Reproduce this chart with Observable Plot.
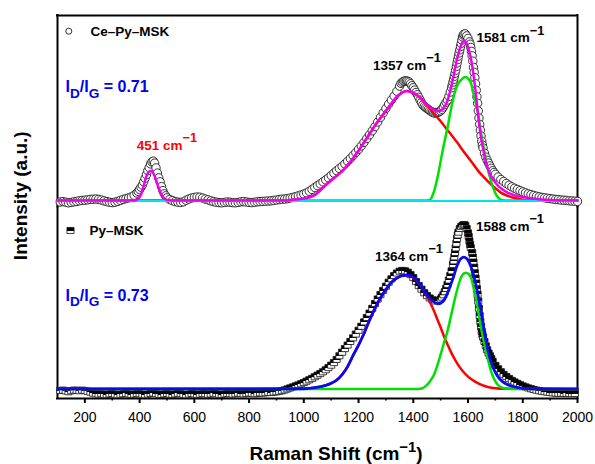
<!DOCTYPE html>
<html>
<head>
<meta charset="utf-8">
<script src="https://cdn.jsdelivr.net/npm/d3@7"></script>
<script src="https://cdn.jsdelivr.net/npm/@observablehq/plot@0.6"></script>
<style>
  html, body { margin: 0; padding: 0; background: #fff; }
  #chart { width: 595px; height: 464px; }
</style>
</head>
<body>
<div id="chart"></div>
<script>
// Panels (samples), top to bottom
const panels = ["Ce–Py–MSK", "Py–MSK"];

// Axis ticks (Raman shift, cm-1)
const majorTicks = [200, 400, 600, 800, 1000, 1200, 1400, 1600, 1800, 2000];
const minorTicks = [300, 500, 700, 900, 1100, 1300, 1500, 1700, 1900];

// Peak positions and intensity ratios
const cePeaks = [451, 1357, 1581];
const pyPeaks = [1364, 1588];
const idigRatios = ["0.71", "0.73"];

// Ce–Py–MSK measured spectrum [shift, intensity]
const ceSpectrum = [
  [110,-0.5],[120,-0.3],[130,-0.6],[140,-0.9],[150,-0.7],[160,-0.4],[170,-0.2],[180,0.1],[190,0.3],[200,0.4],
  [210,0.6],[220,0.8],[230,0.9],[240,1.0],[250,0.8],[260,0.5],[270,0.1],[280,-0.3],[290,-0.6],[300,-0.8],
  [310,-0.6],[320,-0.2],[330,0.3],[340,0.8],[350,1.2],[360,1.6],[370,2.1],[380,2.9],[390,4.0],[395,4.8],
  [400,5.8],[405,6.9],[410,8.0],[415,9.6],[420,11.4],[425,13.2],[430,15.2],[435,16.8],[440,18.6],[445,19.6],
  [450,20.0],[455,19.0],[460,16.6],[465,14.0],[470,11.6],[475,9.6],[480,7.2],[485,5.2],[490,3.6],[495,2.6],
  [500,1.6],[510,0.8],[520,0.2],[530,-0.3],[540,-0.6],[550,-0.7],[560,-0.4],[570,0.4],[580,1.0],[590,1.5],
  [600,1.8],[610,2.0],[620,1.9],[630,1.5],[640,1.0],[650,0.6],[660,0.1],[670,-0.3],[680,-0.6],[690,-0.8],
  [700,-0.9],[710,-0.7],[720,-0.5],[730,-0.6],[740,-0.8],[750,-0.9],[760,-0.7],[770,-0.4],[780,-0.3],[790,-0.5],
  [800,-0.7],[810,-0.8],[820,-0.6],[830,-0.4],[840,-0.3],[850,-0.2],[860,-0.1],[870,0.0],[880,0.1],[890,0.3],
  [900,0.5],[910,0.7],[920,0.9],[930,1.0],[940,1.2],[950,1.5],[960,1.8],[970,2.2],[980,2.6],[990,3.0],
  [1000,3.5],[1010,4.1],[1020,4.9],[1030,5.8],[1040,6.8],[1050,7.7],[1060,8.6],[1070,9.6],[1080,10.6],[1090,11.6],
  [1100,12.8],[1110,14.0],[1120,15.2],[1130,16.3],[1140,17.4],[1150,18.6],[1160,19.9],[1170,21.3],[1180,22.8],[1190,24.3],
  [1200,25.9],[1210,27.6],[1220,29.4],[1230,31.3],[1240,33.2],[1250,35.2],[1260,37.3],[1270,39.6],[1280,41.9],[1290,44.2],
  [1300,46.4],[1310,48.6],[1320,50.6],[1330,52.6],[1340,55.0],[1350,57.6],[1355,59.0],[1360,59.6],[1365,60.0],[1370,60.2],
  [1375,60.2],[1380,60.0],[1385,59.6],[1390,58.8],[1395,57.8],[1400,56.8],[1405,55.6],[1410,54.4],[1415,53.3],[1420,52.0],
  [1425,50.6],[1430,49.4],[1435,48.2],[1440,47.4],[1445,46.9],[1450,46.4],[1455,45.9],[1460,45.4],[1465,44.9],[1470,44.5],
  [1475,44.2],[1480,44.1],[1485,44.2],[1490,44.4],[1495,44.8],[1500,45.2],[1505,46.0],[1510,47.1],[1515,48.3],[1520,49.5],
  [1525,50.6],[1530,52.4],[1535,54.6],[1540,56.8],[1542.5,58.2],[1545,59.6],[1547.5,61.0],[1550,62.5],[1552.5,64.0],[1555,65.6],
  [1557.5,67.4],[1560,69.2],[1562.5,70.9],[1565,72.6],[1567.5,74.2],[1570,75.8],[1572.5,77.4],[1575,79.0],[1577.5,80.7],[1580,82.2],
  [1582.5,83.2],[1585,83.6],[1590,83.8],[1595,82.8],[1600,81.5],[1605,79.8],[1607.5,78.6],[1610,77.0],[1612.5,75.0],[1615,72.8],
  [1617.5,70.1],[1620,67.0],[1622.5,64.5],[1625,61.8],[1627.5,58.8],[1630,55.5],[1632.5,52.2],[1635,49.0],[1637.5,45.2],[1640,41.6],
  [1642.5,38.4],[1645,35.5],[1647.5,32.6],[1650,30.0],[1652.5,28.1],[1655,26.6],[1660,24.0],[1665,22.0],[1670,20.4],[1675,19.0],
  [1680,17.6],[1685,16.4],[1690,15.2],[1695,14.3],[1700,13.4],[1710,12.0],[1720,10.8],[1730,9.8],[1740,8.8],[1750,7.9],
  [1760,7.1],[1770,6.4],[1780,5.8],[1790,5.2],[1800,4.6],[1810,4.1],[1820,3.6],[1830,3.2],[1840,2.8],[1850,2.4],
  [1860,2.1],[1870,1.8],[1880,1.6],[1890,1.4],[1900,1.2],[1910,1.0],[1920,0.8],[1930,0.7],[1940,0.5],[1950,0.4],
  [1960,0.3],[1970,0.1],[1980,0.0],[1990,-0.1],[2000,-0.2]
];

// Ce–Py–MSK fits: cumulative, D band, G band, baseline
const ceCumulativeFit = [
  [100,0.3],[380,0.3],[390,0.7],[400,2.0],[405,3.3],[410,5.2],[415,7.6],[420,10.2],[425,12.4],[430,14.0],
  [435,14.8],[440,15.0],[445,14.8],[450,14.0],[455,12.5],[460,10.6],[465,8.5],[470,6.5],[475,4.7],[480,3.2],
  [485,2.1],[490,1.3],[500,0.6],[510,0.35],[520,0.3],[940,0.3],[960,0.6],[980,0.9],[1000,1.2],[1020,1.8],
  [1040,3.0],[1060,5.4],[1080,8.0],[1100,10.4],[1120,12.6],[1140,15.0],[1160,18.0],[1180,21.4],[1200,25.2],[1220,29.4],
  [1240,33.6],[1260,37.8],[1280,41.6],[1300,45.2],[1320,48.8],[1340,52.2],[1360,54.4],[1375,55.1],[1390,54.8],[1405,53.8],
  [1420,52.4],[1435,50.4],[1450,48.2],[1465,46.6],[1480,45.4],[1490,45.0],[1500,45.3],[1510,46.5],[1520,48.6],[1530,52.6],
  [1540,58.0],[1550,64.6],[1560,71.2],[1570,76.4],[1580,79.6],[1587,80.3],[1595,79.0],[1605,74.8],[1615,68.0],[1625,58.0],
  [1635,45.5],[1645,34.0],[1655,26.2],[1665,19.6],[1675,15.2],[1685,12.2],[1695,10.1],[1710,7.6],[1725,5.9],[1745,4.2],
  [1770,2.9],[1800,2.0],[1830,1.4],[1870,0.8],[1920,0.4],[2000,0.3]
];
const ceDBand = [
  [100,0.3],[940,0.3],[960,0.6],[980,0.9],[1000,1.2],[1020,1.8],[1040,3.0],[1060,5.4],[1080,8.0],[1100,10.4],
  [1120,12.6],[1140,15.0],[1160,18.0],[1180,21.4],[1200,25.2],[1220,29.4],[1240,33.6],[1260,37.8],[1280,41.6],[1300,45.2],
  [1320,48.8],[1340,52.2],[1360,54.4],[1375,55.1],[1390,54.8],[1405,53.8],[1420,52.3],[1435,50.2],[1450,47.9],[1465,45.4],
  [1480,43.0],[1500,40.0],[1520,36.4],[1540,33.0],[1560,29.4],[1580,25.6],[1600,22.0],[1620,18.3],[1640,14.6],[1660,11.6],
  [1680,8.8],[1700,6.4],[1720,4.2],[1745,2.6],[1770,1.5],[1800,0.7],[1830,0.35],[2000,0.3]
];
const ceGBand = [
  [100,0.3],[1440,0.3],[1458,0.4],[1466,1.5],[1476,4.9],[1488,11.5],[1500,20.0],[1512,28.5],[1525,36.7],[1537,45.5],
  [1550,53.5],[1562,58.4],[1574,60.6],[1585,62.0],[1592,62.2],[1600,61.4],[1611,59.0],[1622,52.6],[1635,45.0],[1647,34.6],
  [1660,24.8],[1672,16.2],[1684,10.0],[1693,6.2],[1702,3.3],[1712,1.4],[1721,0.5],[1735,0.3],[2000,0.3]
];
const ceBaseline = [[100,0],[2000,0]];

// Py–MSK measured spectrum [shift, intensity]
const pySpectrum = [
  [110,1.0],[120,1.2],[130,0.8],[140,0.4],[150,0.9],[160,1.2],[170,1.1],[180,0.9],[190,1.2],[200,1.0],
  [210,0.6],[220,0.2],[230,-0.3],[240,-0.6],[250,-0.8],[260,-0.6],[270,-0.9],[280,-1.0],[290,-0.7],[300,-0.5],
  [310,-0.8],[320,-1.1],[330,-0.9],[340,-0.6],[350,-0.4],[360,-0.7],[370,-1.0],[380,-0.8],[390,-0.5],[400,-0.6],
  [410,-0.9],[420,-1.1],[430,-0.8],[440,-0.5],[450,-0.3],[460,-0.6],[470,-0.9],[480,-1.0],[490,-0.7],[500,-0.5],
  [510,-0.8],[520,-1.0],[530,-0.7],[540,-0.4],[550,-0.6],[560,-0.9],[570,-1.1],[580,-0.8],[590,-0.5],[600,-0.7],
  [610,-1.0],[620,-0.8],[630,-0.5],[640,-0.6],[650,-0.9],[660,-0.7],[670,-0.4],[680,-0.6],[690,-0.9],[700,-1.0],
  [710,-0.7],[720,-0.5],[730,-0.6],[740,-0.8],[750,-0.6],[760,-0.3],[770,-0.5],[780,-0.7],[790,-0.5],[800,-0.3],
  [810,-0.4],[820,-0.6],[830,-0.4],[840,-0.2],[850,-0.3],[860,-0.1],[870,0.1],[880,0.0],[890,0.2],[900,0.4],
  [910,0.6],[920,0.9],[930,1.3],[940,1.8],[950,2.3],[960,2.8],[970,3.3],[980,3.8],[990,4.4],[1000,5.0],
  [1010,5.7],[1020,6.4],[1030,7.1],[1040,7.9],[1050,8.7],[1060,9.5],[1070,10.4],[1080,11.4],[1090,12.5],[1100,13.7],
  [1110,15.0],[1120,16.6],[1130,18.4],[1140,20.2],[1150,22.0],[1160,23.8],[1170,25.6],[1180,27.4],[1190,29.3],[1200,31.2],
  [1210,33.2],[1220,35.4],[1230,37.6],[1240,39.8],[1250,42.2],[1260,44.6],[1270,46.9],[1280,49.1],[1290,51.2],[1300,53.3],
  [1310,55.3],[1320,57.0],[1330,58.6],[1340,59.9],[1350,60.8],[1360,61.2],[1370,61.0],[1380,60.3],[1390,59.1],[1400,57.6],
  [1410,55.6],[1420,53.6],[1430,51.8],[1440,50.0],[1450,48.6],[1460,47.4],[1470,46.5],[1480,45.9],[1490,46.0],[1500,46.9],
  [1505,47.8],[1510,49.0],[1515,50.5],[1520,52.2],[1525,54.2],[1530,56.4],[1535,58.6],[1540,61.0],[1545,64.2],[1547.5,66.0],
  [1550,68.0],[1552.5,70.2],[1555,72.5],[1557.5,74.8],[1560,77.2],[1562.5,79.0],[1565,80.4],[1570,82.2],[1575,83.2],[1580,83.8],
  [1585,84.2],[1590,83.8],[1595,82.2],[1600,80.0],[1602.5,78.2],[1605,76.0],[1607.5,74.2],[1610,72.6],[1615,70.2],[1617.5,67.8],
  [1620,65.4],[1622.5,62.8],[1625,60.0],[1627.5,57.4],[1630,54.8],[1632.5,52.0],[1635,49.2],[1637.5,45.8],[1640,42.2],[1642.5,38.6],
  [1645,35.6],[1647.5,33.0],[1650,30.6],[1652.5,29.0],[1655,27.8],[1660,25.6],[1665,23.4],[1670,21.4],[1675,19.8],[1680,18.4],
  [1685,17.0],[1690,15.6],[1700,13.6],[1710,11.9],[1720,10.4],[1730,9.1],[1740,8.0],[1750,7.0],[1760,6.1],[1770,5.3],
  [1780,4.6],[1790,3.9],[1800,3.3],[1810,2.8],[1820,2.3],[1830,1.9],[1840,1.5],[1850,1.2],[1860,0.9],[1870,0.6],
  [1880,0.4],[1890,0.2],[1900,0.0],[1910,-0.2],[1920,-0.3],[1930,-0.4],[1940,-0.4],[1950,-0.5],[1960,-0.4],[1970,-0.5],
  [1980,-0.6],[1990,-0.5]
];

// Py–MSK fits: cumulative, D band, G band
const pyCumulativeFit = [
  [100,1.8],[1000,1.9],[1040,2.4],[1080,3.6],[1100,4.6],[1120,6.2],[1140,9.0],[1160,13.0],[1180,18.6],[1200,23.8],
  [1220,29.6],[1240,36.2],[1260,42.2],[1280,47.4],[1300,51.6],[1320,55.2],[1340,57.4],[1360,58.6],[1380,58.9],[1400,57.8],
  [1420,55.0],[1440,50.9],[1460,47.2],[1475,45.4],[1490,44.5],[1500,44.8],[1515,47.0],[1530,51.6],[1545,57.2],[1560,63.6],
  [1572,66.8],[1584,67.9],[1595,67.2],[1605,65.0],[1615,61.4],[1625,56.4],[1635,50.0],[1645,42.6],[1655,34.2],[1665,26.4],
  [1675,19.8],[1685,15.0],[1695,11.4],[1708,8.2],[1725,5.6],[1745,3.9],[1770,2.8],[1800,2.1],[1830,1.9],[2000,1.8]
];
const pyDBand = [
  [100,1.8],[1000,1.9],[1040,2.4],[1080,3.6],[1100,4.6],[1120,6.2],[1140,9.0],[1160,13.0],[1180,18.6],[1200,23.8],
  [1220,29.6],[1240,36.2],[1260,42.2],[1280,47.4],[1300,51.6],[1320,55.2],[1340,57.4],[1360,58.5],[1380,58.7],[1400,57.5],
  [1420,54.8],[1430,53.0],[1440,50.6],[1452,47.5],[1464,44.4],[1476,40.8],[1488,36.6],[1500,32.6],[1512,28.2],[1525,24.1],
  [1540,19.6],[1555,15.9],[1570,12.6],[1586,9.9],[1605,7.4],[1623,5.7],[1645,4.1],[1672,2.8],[1700,2.1],[1730,1.85],
  [2000,1.8]
];
const pyGBand = [
  [100,1.8],[1420,1.8],[1430,2.0],[1445,3.2],[1460,5.4],[1476,9.0],[1488,13.6],[1500,19.1],[1512,24.8],[1525,30.8],
  [1537,38.0],[1550,45.8],[1560,51.4],[1570,56.0],[1580,59.0],[1592,60.0],[1602,59.4],[1611,57.5],[1620,52.8],[1629,47.5],
  [1638,40.0],[1648,32.0],[1657,26.0],[1666,20.7],[1675,15.4],[1684,10.7],[1696,6.6],[1708,4.0],[1725,2.4],[1745,1.9],
  [1760,1.8],[2000,1.8]
];

// ---- drawing ----
const shift = d => d[0];
const intensity = d => d[1];
const inPanel = p => () => p;

const fitLine = (data, panel, stroke, strokeWidth = 2.5) =>
  Plot.line(data, {x: shift, y: intensity, fy: inPanel(panel), stroke, strokeWidth,
                   curve: "monotone-x", strokeLinejoin: "round", strokeLinecap: "round"});

const peakLabel = (panel, peak, fill, dx, dy) =>
  Plot.text([peak], {x: d => d, fy: inPanel(panel), frameAnchor: "top",
                     text: d => `${d} cm^{−1}`, fill, fontSize: 13.5, fontWeight: "bold",
                     textAnchor: "middle", lineAnchor: "middle", dx, dy});

const ratioLabel = (panel, ratio, dy) =>
  Plot.text([ratio], {fy: inPanel(panel), frameAnchor: "top-left",
                      text: d => `I_{D}/I_{G} = ${d}`, fill: "#0000f5", fontSize: 16, fontWeight: "bold",
                      textAnchor: "start", lineAnchor: "middle", dx: 8, dy});

// open square with a solid upper half, slightly wider than tall
const halfSquare = {
  draw(context, size) {
    const w = Math.sqrt(size), h = w * 0.86;
    context.rect(-w / 2, -h / 2, w, h);
  }
};

const chart = Plot.plot({
  width: 595,
  height: 464,
  marginLeft: 57,
  marginRight: 18,
  marginTop: 15,
  marginBottom: 66,
  style: {fontFamily: "'Liberation Sans', Arial, Helvetica, sans-serif", fontSize: "14px", color: "black", background: "white"},
  x: {domain: [100, 2000]},
  y: {domain: [-3, 93], axis: null},
  fy: {domain: panels, axis: null, padding: 0, round: false},
  marks: [
    // frame (no divider between the stacked panels)
    Plot.ruleX([100, 2000], {stroke: "black", strokeWidth: 2, strokeLinecap: "square"}),
    Plot.ruleY([93], {fy: inPanel(panels[0]), stroke: "black", strokeWidth: 2, strokeLinecap: "square"}),
    Plot.ruleY([-3], {fy: inPanel(panels[1]), stroke: "black", strokeWidth: 2, strokeLinecap: "square"}),
    Plot.axisX({ticks: majorTicks, tickFormat: d3.format("d"), tickSize: 5, tickPadding: 8.5,
                strokeWidth: 2, fontSize: 14, label: null}),
    Plot.axisX({ticks: minorTicks, tickFormat: () => "", tickSize: 2.5, strokeWidth: 1.6, label: null}),

    // measured spectra
    Plot.dot(ceSpectrum, {x: shift, y: intensity, fy: inPanel(panels[0]), r: 4.2,
                          fill: "white", stroke: "#1a1a1a", strokeWidth: 0.9}),
    Plot.dot(pySpectrum, {x: shift, y: intensity, fy: inPanel(panels[1]), r: 4, symbol: halfSquare,
                          fill: "url(#halfFill)", stroke: "#111", strokeWidth: 0.8}),

    // peak fits
    fitLine(ceDBand, panels[0], "#ff0000"),
    fitLine(ceGBand, panels[0], "#00e000"),
    fitLine(ceBaseline, panels[0], "#00e4ee", 2.2),
    fitLine(ceCumulativeFit, panels[0], "#f000f0"),
    fitLine(pyDBand, panels[1], "#ff0000"),
    fitLine(pyGBand, panels[1], "#00e000"),
    fitLine(pyCumulativeFit, panels[1], "#0a0af0", 2.8),

    // legends
    Plot.dot([panels[0]], {fy: d => d, frameAnchor: "top-left", dx: 11.3, dy: 15.7, r: 3,
                           fill: "white", stroke: "#1a1a1a", strokeWidth: 0.9}),
    Plot.dot([panels[1]], {fy: d => d, frameAnchor: "top-left", dx: 13, dy: 23.5, r: 4, symbol: halfSquare,
                           fill: "url(#halfFill)", stroke: "#111", strokeWidth: 0.8}),
    Plot.text([panels[0]], {fy: d => d, frameAnchor: "top-left", text: d => d, dx: 33, dy: 15.7,
                            textAnchor: "start", lineAnchor: "middle", fontSize: 13.5, fontWeight: "bold"}),
    Plot.text([panels[1]], {fy: d => d, frameAnchor: "top-left", text: d => d, dx: 32, dy: 23.5,
                            textAnchor: "start", lineAnchor: "middle", fontSize: 13.5, fontWeight: "bold"}),

    // intensity ratios
    ratioLabel(panels[0], idigRatios[0], 71.6),
    ratioLabel(panels[1], idigRatios[1], 88.4),

    // peak positions
    peakLabel(panels[0], cePeaks[0], "#ff0000", 13.4, 130),
    peakLabel(panels[0], cePeaks[1], "black", 5.5, 50.2),
    peakLabel(panels[0], cePeaks[2], "black", 47.6, 22.5),
    peakLabel(panels[1], pyPeaks[0], "black", 5.6, 49.4),
    peakLabel(panels[1], pyPeaks[1], "black", 45.3, 19.2),

    // axis titles
    Plot.text(["Intensity (a.u.)"], {fy: inPanel(panels[0]), frameAnchor: "left", text: d => d, rotate: -90,
                                     dx: -36.3, dy: 84.5, fontSize: 19, fontWeight: "bold",
                                     textAnchor: "middle", lineAnchor: "middle"}),
    Plot.text(["Raman Shift (cm^{−1})"], {fy: inPanel(panels[1]), frameAnchor: "bottom", text: d => d,
                                          dx: 18.5, dy: 55.6, fontSize: 19, fontWeight: "bold",
                                          textAnchor: "middle", lineAnchor: "middle"})
  ]
});

document.getElementById("chart").appendChild(chart);

// gradient giving the square markers their solid top half
const defs = d3.select(chart).insert("defs", ":first-child");
const grad = defs.append("linearGradient").attr("id", "halfFill")
  .attr("x1", 0).attr("y1", 0).attr("x2", 0).attr("y2", 1);
grad.append("stop").attr("offset", 0.52).attr("stop-color", "#000");
grad.append("stop").attr("offset", 0.52).attr("stop-color", "#fff");

// turn ^{..} and _{..} markup into raised / lowered tspans
function setRichText(svg) {
  const ns = "http://www.w3.org/2000/svg";
  svg.querySelectorAll("text").forEach(t => {
    const s = t.textContent;
    if (!/[\^_]\{/.test(s)) return;
    const size = parseFloat(getComputedStyle(t).fontSize);
    const large = size >= 18;
    const supScale = large ? 0.78 : 0.95, supRise = large ? 0.45 : 0.58;
    const subScale = 0.85, subDrop = 0.34;
    t.textContent = "";
    let offset = 0;
    for (const m of s.matchAll(/([\^_])\{([^}]*)\}|[^\^_]+/g)) {
      const span = document.createElementNS(ns, "tspan");
      let target = 0;
      if (m[1] === "^") { target = -supRise * size; span.setAttribute("font-size", supScale * size); }
      else if (m[1] === "_") { target = subDrop * size; span.setAttribute("font-size", subScale * size); }
      if (target !== offset) span.setAttribute("dy", target - offset);
      offset = target;
      span.textContent = m[1] ? m[2] : m[0];
      t.appendChild(span);
    }
  });
}
setRichText(chart);
</script>
</body>
</html>
